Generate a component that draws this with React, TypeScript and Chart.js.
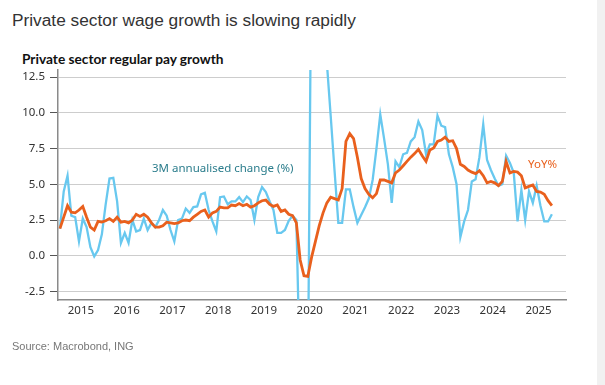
import React, { useEffect, useRef } from "react";
import { Chart, registerables } from "chart.js";

Chart.register(...registerables);

// Monthly data, Jan 2015 – Oct 2025
const START_YEAR = 2015;
const START_MONTH = 1;

const yoyPct = [
  1.9, 2.7, 3.5, 3.05, 3.0, 3.2, 3.45, 2.7, 2.0, 1.8,
  2.4, 2.35, 2.45, 2.6, 2.4, 2.7, 2.35, 2.4, 2.3, 2.5,
  2.9, 2.75, 2.9, 2.7, 2.3, 2.0, 2.0, 2.1, 2.35, 2.3,
  2.25, 2.3, 2.45, 2.5, 2.45, 2.7, 2.9, 3.1, 3.2, 2.7,
  3.0, 3.1, 3.4, 3.35, 3.35, 3.55, 3.5, 3.65, 3.5, 3.6,
  3.4, 3.5, 3.7, 3.85, 3.9, 3.6, 3.45, 3.55, 3.1, 3.2,
  2.9, 2.8, 2.3, -0.3, -1.4, -1.45, -0.1, 1.0, 2.1, 3.0,
  3.7, 4.1, 4.0, 3.9, 4.7, 8.0, 8.55, 8.2, 6.9, 5.4,
  4.7, 4.3, 4.05, 4.35, 5.3, 5.3, 5.2, 5.1, 5.8, 6.0,
  6.3, 6.6, 6.9, 7.15, 7.45, 7.0, 6.6, 7.4, 7.55, 8.0,
  8.1, 8.3, 8.0, 8.05, 7.5, 6.4, 6.25, 6.0, 5.85, 5.75,
  5.95, 5.6, 5.1, 5.2, 5.1, 4.9, 5.2, 6.6, 5.8, 5.9,
  5.85, 5.6, 4.75, 4.85, 4.95, 4.5, 4.45, 4.3, 3.85, 3.5,
];

const threeMonthAnnualised = [
  1.9, 4.5, 5.6, 2.8, 2.7, 1.0, 2.6, 2.0, 0.6, -0.05,
  0.4, 1.5, 3.6, 5.4, 5.45, 3.8, 0.9, 1.6, 0.9, 2.5,
  1.7, 1.8, 2.6, 1.8, 2.3, 2.0, 2.5, 3.2, 2.8, 1.8,
  1.0, 2.5, 2.6, 3.3, 3.0, 3.4, 3.45, 4.3, 4.4, 3.2,
  2.4, 1.7, 4.1, 4.15, 3.6, 3.8, 3.8, 4.1, 3.75, 4.15,
  3.9, 2.5, 4.1, 4.8, 4.45, 3.8, 3.2, 1.6, 1.6, 1.8,
  2.45, 2.8, 2.5, -9, -14, -10, 24, 30, 26, 21,
  13.5, 9.8, 6.0, 2.3, 2.3, 4.65, 4.65, 3.4, 2.3, 2.85,
  3.4, 4.0, 5.3, 7.5, 9.9, 8.2, 6.4, 3.7, 6.6, 6.2,
  7.1, 7.2, 8.0, 8.3, 9.4, 8.8, 7.1, 7.8, 7.8, 9.8,
  9.1, 9.0, 7.1, 6.2, 5.0, 1.3, 2.4, 3.2, 5.2, 5.35,
  6.9, 9.2, 6.7, 6.0, 5.4, 4.9, 5.0, 7.0, 6.5, 5.8,
  2.4, 4.6, 2.5, 4.5, 3.7, 4.9, 3.5, 2.4, 2.4, 2.9,
];

const yearLabels = [2015, 2016, 2017, 2018, 2019, 2020, 2021, 2022, 2023, 2024, 2025];
const yTickValues = [-2.5, 0, 2.5, 5, 7.5, 10, 12.5];

const X_MIN = 2015;
const X_MAX = 2026.1;
const Y_MIN = -3.1;
const Y_MAX = 13;

const BLUE = "#68c8ef";
const ORANGE = "#e9601d";
const TICK_FONT = { family: "'Noto Sans', sans-serif", size: 11.5 };

// decimal-year position of each monthly observation (mid-month)
const monthTime = (i: number) => START_YEAR + (START_MONTH - 1 + i + 0.5) / 12;

export default function App() {
  const canvasRef = useRef<HTMLCanvasElement | null>(null);

  useEffect(() => {
    const canvas = canvasRef.current;
    if (!canvas) return;
    const chart = new Chart(canvas, {
      type: "line",
      data: {
        datasets: [
          {
            label: "YoY%",
            data: yoyPct.map((v, i) => ({ x: monthTime(i), y: v })),
            borderColor: ORANGE,
            borderWidth: 2.8,
            pointRadius: 0,
            tension: 0,
            order: 0,
          },
          {
            label: "3M annualised change (%)",
            data: threeMonthAnnualised.map((v, i) => ({ x: monthTime(i), y: v })),
            borderColor: BLUE,
            borderWidth: 2.3,
            pointRadius: 0,
            tension: 0,
            order: 1,
          },
        ],
      },
      options: {
        animation: false,
        responsive: false,
        maintainAspectRatio: false,
        layout: { padding: { left: 0, top: 70, right: 39, bottom: 65 } },
        plugins: { legend: { display: false }, tooltip: { enabled: false } },
        scales: {
          x: {
            type: "linear",
            min: X_MIN,
            max: X_MAX,
            afterBuildTicks: (scale: any) => {
              scale.ticks = yearLabels.map((y) => ({ value: y + 0.5 }));
            },
            afterFit: (scale: any) => {
              scale.height = 20;
            },
            ticks: {
              callback: (v: any) => String(Math.floor(Number(v))),
              color: "#333",
              font: TICK_FONT,
              padding: 4,
              maxRotation: 0,
              autoSkip: false,
            },
            grid: { display: false, drawTicks: false },
            border: { display: true, color: "#8a8a8a", width: 1.5 },
          },
          y: {
            min: Y_MIN,
            max: Y_MAX,
            afterBuildTicks: (scale: any) => {
              scale.ticks = yTickValues.map((v) => ({ value: v }));
            },
            afterFit: (scale: any) => {
              scale.width = 58;
            },
            ticks: {
              callback: (v: any) => Number(v).toFixed(1),
              color: "#333",
              font: TICK_FONT,
              padding: 5,
            },
            grid: { color: "#cdcdcd", lineWidth: 1, tickColor: "#555", tickLength: 8 },
            border: { display: true, color: "#8a8a8a", width: 1.5 },
          },
        },
      },
    });
    return () => chart.destroy();
  }, []);

  return (
    <div
      style={{
        position: "absolute",
        left: 0,
        top: 0,
        width: 605,
        height: 385,
        background: "#fff",
        overflow: "hidden",
      }}
    >
      <div
        style={{
          position: "absolute",
          left: 12,
          top: 10,
          fontFamily: "'Liberation Sans', Arial, sans-serif",
          fontSize: 17.3,
          lineHeight: "20px",
          color: "#333",
          whiteSpace: "nowrap",
        }}
      >
        Private sector wage growth is slowing rapidly
      </div>
      <div
        style={{
          position: "absolute",
          left: 22,
          top: 51,
          fontFamily: "Lato, 'Noto Sans', sans-serif",
          fontWeight: 700,
          fontSize: 13.7,
          lineHeight: "16px",
          color: "#111",
          whiteSpace: "nowrap",
        }}
      >
        Private sector regular pay growth
      </div>
      <canvas
        ref={canvasRef}
        width={605}
        height={385}
        style={{ position: "absolute", left: 0, top: 0, width: 605, height: 385 }}
      />
      <div
        style={{
          position: "absolute",
          left: 152,
          top: 160,
          fontFamily: "'Noto Sans', sans-serif",
          fontSize: 11.5,
          lineHeight: "16px",
          color: "#2b7d8c",
          whiteSpace: "nowrap",
        }}
      >
        3M annualised change (%)
      </div>
      <div
        style={{
          position: "absolute",
          left: 528,
          top: 156,
          fontFamily: "'Noto Sans', sans-serif",
          fontSize: 11.5,
          lineHeight: "16px",
          color: ORANGE,
          whiteSpace: "nowrap",
        }}
      >
        YoY%
      </div>
      <div
        style={{
          position: "absolute",
          left: 12,
          top: 339,
          fontFamily: "'Liberation Sans', Arial, sans-serif",
          fontSize: 11,
          lineHeight: "14px",
          color: "#777",
          whiteSpace: "nowrap",
        }}
      >
        Source: Macrobond, ING
      </div>
      <div
        style={{
          position: "absolute",
          left: 597,
          top: 0,
          width: 8,
          height: 385,
          background: "#f1f1f1",
        }}
      />
    </div>
  );
}
